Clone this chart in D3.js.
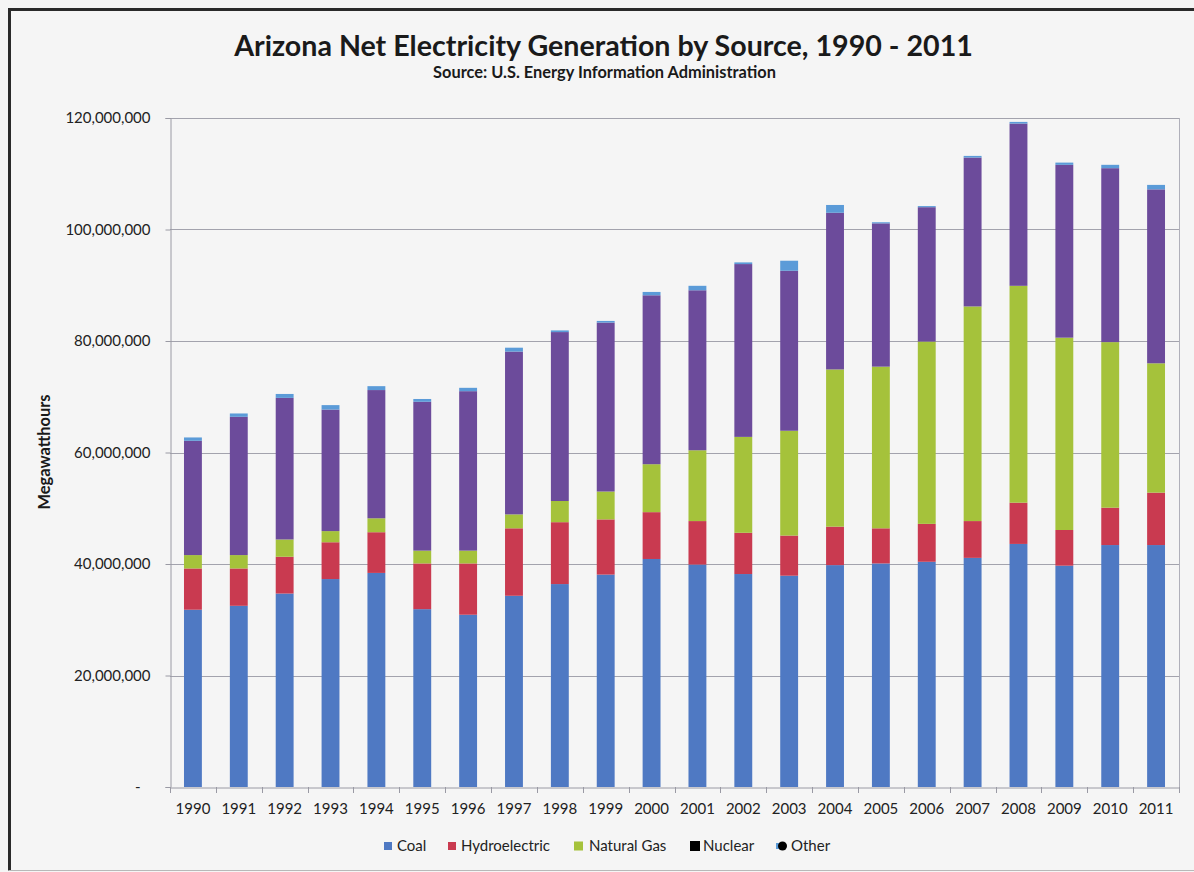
<!DOCTYPE html>
<html>
<head>
<meta charset="utf-8">
<script src="https://cdn.jsdelivr.net/npm/d3@7"></script>
<style>
  html, body { margin: 0; padding: 0; background: #f5f5f5; }
  svg { display: block; }
</style>
</head>
<body>
<svg id="chart" width="1194" height="872"></svg>
<script>
// ---- Data (Megawatthours) ----
const years = ["1990","1991","1992","1993","1994","1995","1996","1997","1998","1999","2000","2001","2002","2003","2004","2005","2006","2007","2008","2009","2010","2011"];
const coal        = [31.8, 32.5, 34.7, 37.3, 38.4, 31.9, 30.9, 34.3, 36.4, 38.1, 40.9, 39.9, 38.2, 37.9, 39.8, 40.1, 40.4, 41.1, 43.6, 39.7, 43.4, 43.4].map(v => v * 1e6);
const hydro       = [7.4, 6.7, 6.6, 6.6, 7.3, 8.2, 9.2, 12.1, 11.1, 9.9, 8.4, 7.8, 7.4, 7.2, 6.9, 6.3, 6.8, 6.6, 7.4, 6.4, 6.7, 9.4].map(v => v * 1e6);
const naturalGas  = [2.4, 2.4, 3.1, 2.0, 2.5, 2.3, 2.3, 2.5, 3.8, 5.0, 8.6, 12.7, 17.2, 18.8, 28.2, 29.0, 32.7, 38.5, 38.9, 34.5, 29.7, 23.2].map(v => v * 1e6);
const nuclear     = [20.5, 24.8, 25.4, 21.8, 23.0, 26.7, 28.6, 29.2, 30.3, 30.3, 30.3, 28.7, 31.0, 28.7, 28.1, 25.7, 24.1, 26.7, 29.1, 31.0, 31.2, 31.2].map(v => v * 1e6);
const other       = [0.6, 0.6, 0.7, 0.8, 0.7, 0.5, 0.6, 0.7, 0.3, 0.3, 0.6, 0.8, 0.3, 1.8, 1.4, 0.2, 0.2, 0.3, 0.3, 0.4, 0.6, 0.8].map(v => v * 1e6);
const seriesNames = ["Coal", "Hydroelectric", "Natural Gas", "Nuclear", "Other"];
const yTicks = [0, 20e6, 40e6, 60e6, 80e6, 100e6, 120e6];

const title = "Arizona Net Electricity Generation by Source, 1990 - 2011";
const subtitle = "Source: U.S. Energy Information Administration";
const yTitle = "Megawatthours";

// ---- Styles ----
const colors = {
  "Coal": "#4f79c3",
  "Hydroelectric": "#c93a50",
  "Natural Gas": "#a5c23b",
  "Nuclear": "#6c4b9b",
  "Other": "#5b9bd8"
};
const FONT = "Lato, 'Open Sans', 'Liberation Sans', sans-serif";

const rows = years.map((y, i) => ({
  year: y, "Coal": coal[i], "Hydroelectric": hydro[i], "Natural Gas": naturalGas[i],
  "Nuclear": nuclear[i], "Other": other[i]
}));

const svg = d3.select("#chart");
const W = 1194, H = 872;
const plot = { left: 170, right: 1179, top: 118, bottom: 787 };

// background and outer frame
svg.append("rect").attr("x", 0).attr("y", 0).attr("width", W).attr("height", H).attr("fill", "#f5f5f5");
svg.append("path")
  .attr("d", `M9.5,${H - 1.5} V9.5 H${W + 5}`)
  .attr("fill", "none").attr("stroke", "#2a2a2a").attr("stroke-width", 3);
svg.append("line").attr("x1", 9).attr("x2", W).attr("y1", 870.5).attr("y2", 870.5)
  .attr("stroke", "#b8b8b8").attr("stroke-width", 1);

const x = d3.scaleBand().domain(years).range([plot.left, plot.right]).paddingInner(0.61).paddingOuter(0.305);
const y = d3.scaleLinear().domain([0, 120e6]).range([plot.bottom, plot.top]);

// gridlines
svg.append("g").selectAll("line").data(yTicks.filter(t => t > 0)).join("line")
  .attr("x1", plot.left).attr("x2", plot.right)
  .attr("y1", d => Math.round(y(d)) + 0.5).attr("y2", d => Math.round(y(d)) + 0.5)
  .attr("stroke", "#a3a3ad").attr("stroke-width", 1);
// right border of plot
svg.append("line").attr("x1", plot.right + 0.5).attr("x2", plot.right + 0.5)
  .attr("y1", plot.top).attr("y2", plot.bottom)
  .attr("stroke", "#b0b0ba").attr("stroke-width", 1);

// stacked bars
const stack = d3.stack().keys(seriesNames);
const stacked = stack(rows);
svg.append("g").selectAll("g").data(stacked).join("g")
  .attr("fill", d => colors[d.key])
  .selectAll("rect").data(d => d).join("rect")
  .attr("x", d => x(d.data.year))
  .attr("width", x.bandwidth())
  .attr("y", d => y(d[1]))
  .attr("height", d => y(d[0]) - y(d[1]));

// y axis
const yAxis = d3.axisLeft(y).tickValues(yTicks).tickSize(5).tickPadding(15)
  .tickFormat(d => d === 0 ? "-" : d3.format(",")(d));
const gy = svg.append("g").attr("transform", `translate(${plot.left + 0.5},0)`).call(yAxis);
gy.select(".domain").attr("stroke", "#9a9aa4");
gy.selectAll(".tick line").attr("stroke", "#9a9aa4");
gy.selectAll(".tick text").attr("font-family", FONT).attr("font-size", 15).attr("fill", "#222");
gy.selectAll(".tick").filter(d => d === 0).select("text").attr("dx", -10);

// x axis
const xAxis = d3.axisBottom(x).tickSize(0).tickPadding(16);
const gx = svg.append("g").attr("transform", `translate(0,${plot.bottom + 0.5})`).call(xAxis);
gx.select(".domain").attr("stroke", "#9a9aa4");
gx.selectAll(".tick text").attr("font-family", FONT).attr("font-size", 15).attr("fill", "#222");
// category boundary tick marks
const step = x.step();
const bounds = d3.range(years.length + 1).map(i => plot.left + i * (plot.right - plot.left) / years.length);
svg.append("g").selectAll("line").data(bounds).join("line")
  .attr("x1", d => Math.round(d) + 0.5).attr("x2", d => Math.round(d) + 0.5)
  .attr("y1", plot.bottom).attr("y2", plot.bottom + 6)
  .attr("stroke", "#9a9aa4");

// titles
function fitText(sel, targetWidth) {
  const node = sel.node();
  const fs = parseFloat(sel.attr("font-size"));
  const w = node.getComputedTextLength();
  if (w > 0) sel.attr("font-size", fs * targetWidth / w);
}
const t1 = svg.append("text").attr("x", 603.5).attr("y", 56).attr("text-anchor", "middle")
  .attr("font-family", FONT).attr("font-weight", "bold").attr("font-size", 27).attr("fill", "#1a1a1a")
  .text(title);
fitText(t1, 739);
const t2 = svg.append("text").attr("x", 604.5).attr("y", 78).attr("text-anchor", "middle")
  .attr("font-family", FONT).attr("font-weight", "bold").attr("font-size", 13).attr("fill", "#1a1a1a")
  .text(subtitle);
fitText(t2, 343);

const ty = svg.append("text").attr("transform", "translate(50,452) rotate(-90)").attr("text-anchor", "middle")
  .attr("font-family", FONT).attr("font-weight", "bold").attr("font-size", 13).attr("fill", "#1a1a1a")
  .text(yTitle);
fitText(ty, 115);

// legend
const legendItems = [
  { name: "Coal", mx: 384, tx: 397, shape: "sq", fill: colors["Coal"], size: 8 },
  { name: "Hydroelectric", mx: 448, tx: 461, shape: "sq", fill: colors["Hydroelectric"], size: 8 },
  { name: "Natural Gas", mx: 574, tx: 589, shape: "sq", fill: colors["Natural Gas"], size: 9 },
  { name: "Nuclear", mx: 690, tx: 703, shape: "sq", fill: "#000", size: 10 },
  { name: "Other", mx: 778, tx: 791, shape: "circ", fill: "#000", size: 9 }
];
const lg = svg.append("g");
const ly = 846;
legendItems.forEach(it => {
  if (it.shape === "sq") {
    lg.append("rect").attr("x", it.mx).attr("y", ly - it.size / 2).attr("width", it.size).attr("height", it.size).attr("fill", it.fill);
  } else {
    lg.append("rect").attr("x", it.mx - 2).attr("y", ly - 3).attr("width", 3).attr("height", 6).attr("fill", colors["Other"]);
    lg.append("circle").attr("cx", it.mx + it.size / 2).attr("cy", ly).attr("r", it.size / 2).attr("fill", it.fill);
  }
  lg.append("text").attr("x", it.tx).attr("y", ly).attr("dy", "0.35em")
    .attr("font-family", FONT).attr("font-size", 15).attr("fill", "#222").text(it.name);
});
</script>
</body>
</html>
